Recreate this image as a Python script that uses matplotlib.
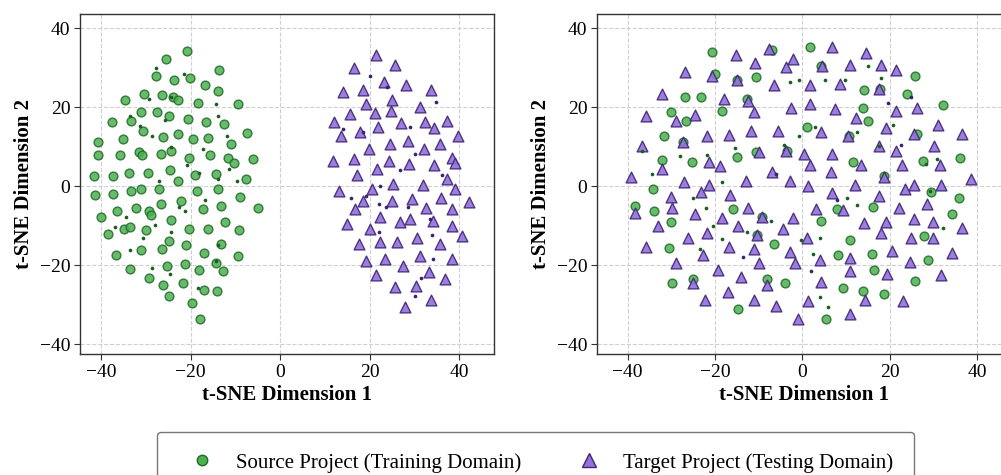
import matplotlib.pyplot as plt
from matplotlib.lines import Line2D

plt.rcParams['font.family'] = ['Liberation Serif', 'DejaVu Serif']
plt.rcParams['mathtext.fontset'] = 'stix'

# left panel: before adaptation (separate clusters)
src_x_before = [-20.9, -25.4, -27.8, -13.7, -23.7, -20.2, -16.7, -13.8, -30.4, -26.4, -34.6, -23.9,
                -22.9, -18.4, -9.3, -31.0, -27.4, -24.7, -20.5, -37.5, -33.3, -16.5, -12.5, -30.7,
                -22.9, -35.0, -26.1, -16.1, -19.4, -7.4, -40.6, -10.9, -24.4, -31.6, -26.5, -40.6,
                -35.7, -30.9, -15.6, -20.3, -11.6, -10.3, -6.0, -24.6, -33.8, -29.5, -37.4, -41.5,
                -19.0, -14.3, -22.8, -7.5, -31.0, -33.3, -27.1, -13.8, -18.5, -41.4, -37.3, -8.9,
                -22.2, -26.5, -13.2, -5.0, -32.2, -36.5, -17.2, -29.2, -28.8, -39.9, -24.4, -12.2,
                -34.8, -33.5, -30.0, -20.3, -16.1, -9.2, -38.4, -24.8, -13.3, -26.4, -21.0, -31.0,
                -17.0, -36.6, -9.3, -33.6, -25.3, -21.2, -14.3, -18.0, -12.7, -29.2, -26.1, -21.6,
                -17.0, -14.1, -24.7, -19.7, -17.9]
src_y_before = [34.3, 32.2, 28.0, 29.4, 27.0, 27.4, 25.7, 24.1, 23.4, 23.1, 21.8, 22.7,
                21.8, 21.1, 20.8, 18.9, 18.8, 17.7, 17.0, 16.2, 16.5, 16.3, 15.7, 13.9,
                13.3, 12.0, 12.4, 12.1, 12.0, 13.5, 11.1, 10.8, 9.0, 8.6, 8.2, 7.9,
                7.9, 7.9, 8.0, 7.2, 7.2, 5.8, 6.8, 4.0, 3.4, 3.4, 2.6, 2.7,
                2.9, 3.0, 1.3, 1.9, -0.6, -1.2, -0.8, -0.6, -1.3, -2.3, -2.1, -2.7,
                -3.8, -4.5, -5.1, -5.6, -5.4, -6.2, -5.7, -6.4, -7.4, -7.9, -8.6, -9.0,
                -10.9, -10.3, -11.2, -10.8, -10.8, -11.1, -12.0, -13.8, -14.6, -15.8, -15.0, -16.2,
                -17.0, -17.3, -17.6, -20.9, -20.3, -19.6, -19.5, -21.3, -21.5, -23.2, -24.9, -24.6,
                -26.4, -26.5, -27.9, -29.7, -33.6]

tgt_x_before = [21.5, 25.7, 16.5, 14.1, 18.6, 23.3, 28.2, 33.7, 25.0, 19.1, 31.2, 15.6, 21.3,
                24.8, 12.0, 27.1, 32.4, 37.4, 34.5, 17.8, 21.9, 13.7, 39.8, 28.6, 24.5, 35.8,
                19.8, 32.1, 16.5, 38.4, 11.9, 24.3, 28.9, 34.3, 39.1, 21.7, 17.1, 37.4, 32.0,
                25.3, 20.6, 13.2, 39.1, 36.0, 29.5, 25.0, 18.6, 42.2, 16.7, 32.6, 38.4, 22.3,
                26.7, 29.0, 34.2, 14.9, 20.2, 38.4, 30.6, 40.7, 17.6, 22.4, 26.2, 35.7, 31.3,
                19.2, 23.5, 38.5, 27.4, 33.2, 21.5, 36.9, 25.6, 30.4, 33.7, 27.9]
tgt_y_before = [33.1, 30.7, 29.9, 23.9, 24.4, 26.4, 25.7, 24.4, 21.9, 20.9, 20.1, 18.4, 18.6,
                19.1, 16.2, 16.0, 16.2, 16.5, 14.8, 13.8, 15.1, 12.6, 12.7, 11.4, 10.8, 10.7,
                9.3, 9.3, 7.0, 7.1, 6.3, 6.4, 5.6, 5.3, 5.8, 4.4, 2.9, 1.7, 0.3,
                0.5, -0.8, -1.1, -0.6, -3.1, -3.3, -3.7, -3.7, -4.1, -5.9, -5.6, -5.9, -7.8,
                -9.0, -8.4, -8.7, -9.5, -10.8, -10.2, -13.0, -12.7, -14.6, -14.1, -14.2, -14.6, -17.6,
                -19.0, -18.4, -18.4, -20.3, -21.8, -22.6, -23.4, -25.5, -25.4, -28.7, -30.5]

# small dark specks in the left panel
src_dot_x_before = [-27.8, -21.4, -24.3, -29.2, -14.3, -13.9, -25.8, -33.6, -31.3, -28.5, -24.4,
                    -17.3, -11.9, -20.9, -11.5, -18.0, -27.1, -13.9, -9.7, -22.6, -16.7, -21.2,
                    -27.9, -30.6, -34.5, -36.8, -33.5, -24.3, -13.8, -14.2, -24.5, -28.5, -18.3]
src_dot_y_before = [30.0, 28.4, 22.7, 22.0, 20.8, 17.8, 16.7, 17.8, 15.3, 12.8, 9.9,
                    9.5, 12.8, 5.3, 4.4, 3.3, 1.3, 1.8, 1.2, -5.2, -3.5, -6.2,
                    -9.8, -13.1, -7.7, -10.3, -16.2, -11.6, -14.8, -19.0, -22.3, -20.8, -25.7]
tgt_dot_x_before = [20.2, 24.0, 34.9, 29.1, 18.5, 30.1, 26.7, 22.4, 15.8, 19.2, 22.2, 28.6,
                    33.4, 34.0, 22.0, 31.6, 30.1, 34.2, 36.2, 23.7, 14.0]
tgt_dot_y_before = [27.9, 25.2, 21.2, 15.1, 13.6, 8.2, 4.0, 0.0, -3.1, -2.4, -4.6, -5.2,
                    -8.3, -12.3, -11.5, -23.2, -27.8, -18.5, 2.8, -5.2, 14.6]

# right panel: after adaptation (mixed)
src_x_after = [-20.6, 1.7, -7.0, 25.7, -10.7, -26.9, -23.2, 23.9, 14.1, 32.2, -18.4, -30.1,
               -26.7, 15.1, -31.6, -27.4, 36.1, -15.0, -32.1, -25.3, 11.5, 27.5, -34.3, -38.3,
               -34.0, -30.0, 35.8, 34.2, -15.8, -6.5, -30.5, 10.9, 15.8, 8.1, 28.8, 16.3,
               25.7, -29.9, 9.2, 13.9, 18.6, -4.0, -14.7, 5.4, -25.0, 26.1, 4.2, -9.2,
               -10.3, -8.2, 1.0, 13.9, 4.2, -15.0, -20.1, 17.7, 10.6, -12.8, -10.6, -3.6,
               18.7, 16.2, 7.8, 27.8, 29.4]
src_y_after = [34.0, 35.2, 34.5, 27.9, 27.6, 22.7, 22.6, 23.3, 24.4, 20.6, 19.1, 18.7,
               16.4, 16.4, 12.7, 11.1, 7.1, 7.4, 6.6, 6.1, 6.2, 6.4, -0.6, -5.1,
               -6.3, -9.0, -2.9, -7.1, -5.9, -14.6, -15.6, -13.7, -17.2, -17.3, -18.7, -21.3,
               -24.1, -24.5, -25.9, -26.5, -27.2, -24.6, -31.1, -33.6, -23.4, 13.2, -8.8, -7.7,
               -12.3, -23.4, 15.1, 19.7, 30.4, 27.0, 28.3, 24.7, 12.8, 22.0, 8.6, 9.0,
               2.6, -5.2, -5.9, -12.6, -1.4]

tgt_x_after = [-7.6, 6.7, -15.1, 14.6, -10.9, -2.1, -26.9, -20.6, -15.0, -3.8, 4.4, 10.9,
               17.9, 21.4, -6.6, 1.7, 8.6, 17.6, -32.1, -17.9, -12.5, -2.7, 1.7, 7.4,
               12.2, 21.5, 26.3, 31.1, -11.2, -24.5, -29.0, -35.9, 36.4, -5.6, -11.8, -16.9,
               -21.8, 4.2, 10.5, 19.0, 25.5, -36.6, -27.4, -9.9, -3.8, 0.4, 6.7, 17.4,
               21.3, 30.0, -32.1, -21.4, -18.9, 1.7, 6.6, 13.5, 22.7, 31.5, -39.3, -27.1,
               -21.3, -12.9, -6.9, -2.9, 12.0, 18.7, 25.6, 31.7, 38.6, 1.2, -23.2, -16.6,
               17.4, 23.5, 6.7, -30.0, -38.2, -29.8, -24.6, -12.4, -18.5, -9.2, -2.1, 3.1,
               9.3, 14.1, 19.1, 22.1, 25.6, 28.4, 29.8, 36.4, -33.0, -26.1, -21.8, -14.8,
               -10.3, -4.4, 1.1, 18.0, 24.8, 29.8, -35.9, -28.9, -22.8, -16.8, -11.2, -2.9,
               -1.7, 3.9, 10.9, 20.4, 24.5, 34.1, -19.3, -9.9, 10.9, 19.3, 31.6, -25.1,
               -14.1, -8.2, 4.2, -17.0, -22.3, -11.1, 1.3, 14.4, 22.9, -6.1, -1.1, 10.9]
tgt_y_after = [34.7, 35.2, 33.1, 33.7, 31.2, 32.2, 28.9, 28.0, 27.0, 30.1, 30.4, 30.8,
               30.6, 29.3, 25.7, 25.5, 26.0, 24.5, 23.3, 22.2, 21.6, 19.7, 20.8, 19.5,
               17.2, 19.1, 19.9, 15.5, 18.7, 18.0, 16.4, 17.7, 13.1, 14.1, 13.9, 13.0,
               12.6, 13.6, 12.8, 14.8, 13.2, 10.3, 11.1, 8.6, 9.0, 8.2, 8.2, 10.3,
               8.8, 10.3, 4.3, 6.1, 5.1, 5.3, 3.6, 5.3, 5.3, 5.3, 2.2, 1.1,
               0.3, 1.3, 3.6, 1.3, 0.3, 2.3, 0.3, 0.3, 1.9, 0.0, -1.4, -2.3,
               -2.5, -0.8, -1.6, -2.8, -6.9, -5.4, -7.1, -5.4, -8.1, -7.7, -8.1, -5.8,
               -6.1, -9.4, -9.0, -5.6, -8.4, -4.4, -9.0, -10.6, -10.0, -13.0, -11.9, -10.2,
               -12.3, -10.8, -13.1, -11.9, -13.1, -13.1, -15.5, -19.4, -17.5, -15.5, -15.8, -16.7,
               -19.4, -18.8, -18.3, -16.5, -19.2, -16.9, -21.3, -19.4, -21.5, -22.2, -22.6, -24.4,
               -23.0, -24.9, -24.3, -26.9, -28.9, -28.9, -29.0, -28.9, -29.2, -30.3, -33.6, -32.4]

src_dot_x_after = [-0.9, -2.9, 5.1, 9.7, 15.1, 17.9, 20.8, 17.4, 12.4, 2.9, -0.7, -4.2,
                   -15.4, -21.9, -28.0, -34.5, -36.8, -18.5, -25.1, -22.1, -20.4, -18.3, -23.4,
                   -12.8, -7.1, -0.3, 2.5, 4.0, 5.9, 29.2, 32.2, 30.7, 28.2, 4.0, 10.1, 12.4]
src_dot_y_after = [26.8, 26.4, 27.0, 27.0, 30.5, 27.3, 15.5, 10.1, 13.6, 14.9, 12.8, 10.5,
                   9.7, 7.8, 7.6, 3.2, 9.0, 1.1, -2.9, -5.6, -10.2, -13.3, -15.8,
                   -11.5, -8.8, -13.7, -17.2, -28.0, -30.7, -1.3, -10.6, 6.9, 5.5, -13.1, -3.1, -4.8]
tgt_dot_x_after = [24.8, 19.6, -6.0, 8.0, 22.5, -13.5, 2.0]
tgt_dot_y_after = [22.5, 21.0, 3.0, -3.5, 10.5, -18.0, -21.5]

xticks = [-40, -20, 0, 20, 40]
yticks = [-40, -20, 0, 20, 40]

green_face = '#4caf50'
green_edge = '#1e6b26'
purple_face = '#9370db'
purple_edge = '#3f2778'

fig = plt.figure(figsize=(10.01, 4.75), dpi=100)
ax1 = fig.add_axes([0.0799, 0.2547, 0.4136, 0.7158])
ax2 = fig.add_axes([0.5964, 0.2547, 0.4136, 0.7158])

panels = [
    (ax1, src_x_before, src_y_before, tgt_x_before, tgt_y_before,
     src_dot_x_before, src_dot_y_before, tgt_dot_x_before, tgt_dot_y_before, (-44.7, 47.8)),
    (ax2, src_x_after, src_y_after, tgt_x_after, tgt_y_after,
     src_dot_x_after, src_dot_y_after, tgt_dot_x_after, tgt_dot_y_after, (-47.0, 47.7)),
]

for ax, sx, sy, tx, ty, sdx, sdy, tdx, tdy, xlim in panels:
    ax.scatter(sx, sy, s=40, marker='o', c=green_face, edgecolors=green_edge,
               linewidths=1.0, alpha=0.85, zorder=3)
    ax.scatter(tx, ty, s=60, marker='^', c=purple_face, edgecolors=purple_edge,
               linewidths=1.0, alpha=0.9, zorder=3)
    ax.scatter(sdx, sdy, s=7, marker='o', c='#1b5e20', linewidths=0, zorder=4)
    ax.scatter(tdx, tdy, s=7, marker='o', c='#3a2270', linewidths=0, zorder=4)
    ax.set_xlim(*xlim)
    ax.set_ylim(-42.5, 43.6)
    ax.set_xticks(xticks)
    ax.set_yticks(yticks)
    ax.grid(True, linestyle='--', color='#d0d0d0', linewidth=0.8)
    ax.set_axisbelow(True)
    ax.tick_params(labelsize=14, length=4, width=0.8, color='#333333', pad=3)
    for sp in ax.spines.values():
        sp.set_color('#333333')
        sp.set_linewidth(1.0)
    ax.set_xlabel('t-SNE Dimension 1', fontsize=15, fontweight='bold', labelpad=3)
    ax.set_ylabel('t-SNE Dimension 2', fontsize=15, fontweight='bold', labelpad=4)

handles = [
    Line2D([], [], linestyle='none', marker='o', markersize=7.5, markerfacecolor=green_face,
           markeredgecolor=green_edge, label='Source Project (Training Domain)'),
    Line2D([], [], linestyle='none', marker='^', markersize=10, markerfacecolor=purple_face,
           markeredgecolor=purple_edge, label='Target Project (Testing Domain)'),
]
leg = fig.legend(handles=handles, loc='upper center', bbox_to_anchor=(0.535, 0.0905), ncol=2,
                 fontsize=15, frameon=True, fancybox=True, edgecolor='#555555',
                 borderpad=1.0, borderaxespad=0, columnspacing=2.1, handletextpad=0.5,
                 handlelength=2.3)
leg.get_frame().set_linewidth(1.0)

fig.savefig('out.png', dpi=100)
